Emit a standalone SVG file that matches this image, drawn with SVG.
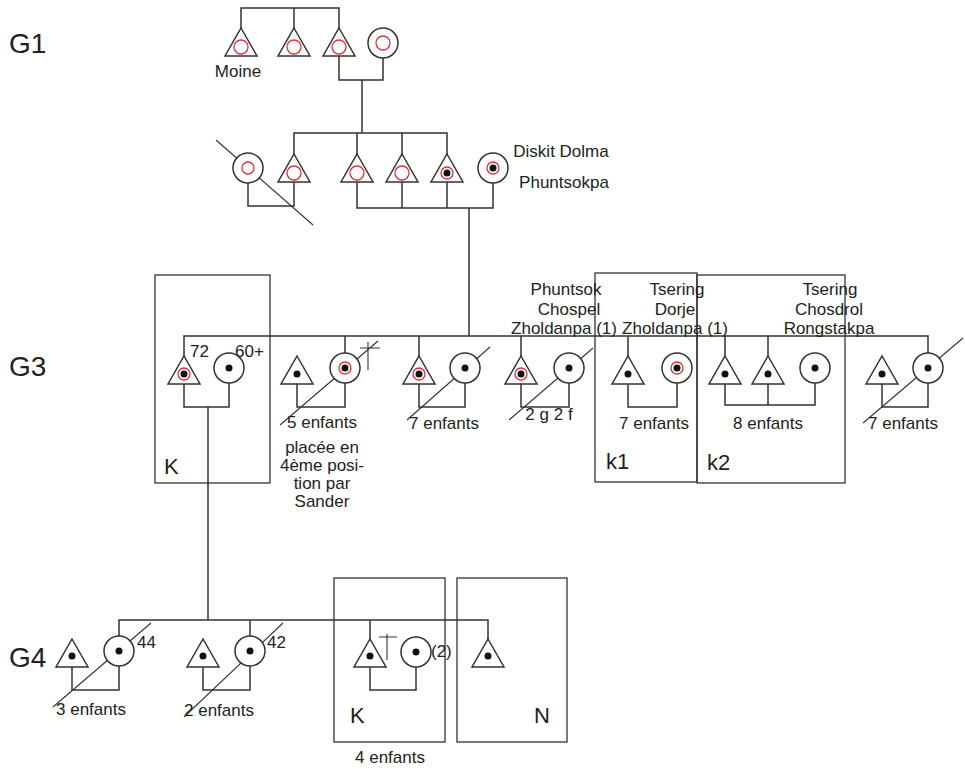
<svg xmlns="http://www.w3.org/2000/svg" xmlns:xlink="http://www.w3.org/1999/xlink" width="965" height="769" viewBox="0 0 965 769">
<style>
.ln{fill:none;stroke:#333;stroke-width:1.5}
.thin{fill:none;stroke:#333;stroke-width:1.1}
.box{fill:none;stroke:#333;stroke-width:1.3}
.sh{fill:#fff;stroke:#333;stroke-width:1.5}
.ring{fill:none;stroke:#e0303a;stroke-width:1.3}
.dot{fill:#111}
text{font-family:"Liberation Sans",Arial,sans-serif;fill:#222}
.t{font-size:17px}
.c{text-anchor:middle}
.g{font-size:28px}
.bl{font-size:22px}
</style>
<defs>
<polygon id="tri" class="sh" points="0,0 16,28 -16,28"/>
<circle id="cir" class="sh" r="15"/>
<circle id="rg" class="ring" r="7"/>
<circle id="rs" class="ring" r="6"/>
<circle id="dt" class="dot" r="3.5"/>
</defs>

<g id="labels">
<text class="g" x="9" y="53">G1</text>
<text class="g" x="9" y="376">G3</text>
<text class="g" x="9" y="667">G4</text>
</g>

<g id="boxes">
<rect id="boxK" class="box" x="155" y="275" width="115" height="208"/>
<text class="bl" x="164" y="474">K</text>
<rect id="boxk1" class="box" x="595" y="273" width="102" height="209"/>
<text class="bl" x="606" y="469">k1</text>
<rect id="boxk2" class="box" x="697" y="275" width="148" height="208"/>
<text class="bl" x="707" y="470">k2</text>
<rect id="boxK4" class="box" x="334" y="578" width="111" height="164"/>
<text class="bl" x="350" y="723">K</text>
<rect id="boxN" class="box" x="457" y="578" width="110" height="164"/>
<text class="bl" x="534" y="723">N</text>
</g>

<g id="connectors">
<!-- G1 -->
<path class="ln" d="M241,28V8H339V28M294,8V28"/>
<path class="ln" d="M339,56V80H383V58M362,80V133"/>
<!-- G2 -->
<path class="ln" d="M294,154V133H447V154M357,133V154M402,133V154"/>
<path class="ln" d="M248,183V206H294V182"/>
<path class="ln" d="M357,182V208H493V183M402,182V208M447,182V208M469,208V336"/>
<path class="thin" d="M216,140L313,225"/>
<!-- G3 -->
<path class="ln" d="M184,356V336H928V353"/>
<path class="ln" d="M184,384V407H229V383M208,407V620"/>
<path class="ln" d="M345,336V353M297,384V407H345V383"/>
<path class="ln" d="M419,336V356M419,384V407H465V383"/>
<path class="ln" d="M521,336V356M521,384V407H569V383"/>
<path class="ln" d="M628,336V356M628,384V407H677V383"/>
<path class="ln" d="M725,336V356M768,336V356M725,384V405H815V383M768,384V405"/>
<path class="ln" d="M882,384V407H928V383"/>
<path class="thin" d="M280,425L378,341M368,342V370M360,348H380"/>
<path class="thin" d="M407,420L490,347"/>
<path class="thin" d="M509,420L593,348"/>
<path class="thin" d="M863,423L963,338"/>
<!-- G4 -->
<path class="ln" d="M119,636V620H488V639M250,620V636M370,620V639"/>
<path class="ln" d="M72,667V690H119V666"/>
<path class="ln" d="M203,667V690H250V666"/>
<path class="ln" d="M370,667V690H416V667"/>
<path class="thin" d="M53,707L151,623"/>
<path class="thin" d="M184,717L283,623"/>
<path class="thin" d="M387,634V660M379,637H397"/>
</g>

<!-- G1 nodes -->
<g id="g1_moine"><use href="#tri" x="241" y="28"/><use href="#rg" x="241" y="47"/><text class="t c" x="238" y="77">Moine</text></g>
<g id="g1_b2"><use href="#tri" x="294" y="28"/><use href="#rg" x="294" y="47"/></g>
<g id="g1_b3"><use href="#tri" x="339" y="28"/><use href="#rg" x="339" y="47"/></g>
<g id="g1_wife"><use href="#cir" x="383" y="43"/><use href="#rg" x="383" y="43"/></g>

<!-- G2 nodes -->
<g id="g2_c1"><use href="#cir" x="248" y="168"/><use href="#rs" x="248" y="168"/></g>
<g id="g2_t2"><use href="#tri" x="294" y="154"/><use href="#rg" x="294" y="173"/></g>
<g id="g2_t3"><use href="#tri" x="357" y="154"/><use href="#rg" x="357" y="173"/></g>
<g id="g2_t4"><use href="#tri" x="402" y="154"/><use href="#rg" x="402" y="173"/></g>
<g id="g2_t5"><use href="#tri" x="447" y="154"/><use href="#rs" x="447" y="173"/><use href="#dt" x="447" y="173"/></g>
<g id="g2_diskit"><use href="#cir" x="493" y="168"/><use href="#rs" x="493" y="168"/><use href="#dt" x="493" y="168"/>
<text class="t c" x="561" y="157">Diskit Dolma</text><text class="t c" x="564" y="188">Phuntsokpa</text></g>

<!-- G3 nodes -->
<g id="g3_k_m"><use href="#tri" x="184" y="356"/><use href="#rs" x="184" y="374"/><use href="#dt" x="184" y="374"/><text class="t" x="190" y="357">72</text></g>
<g id="g3_k_f"><use href="#cir" x="229" y="368"/><use href="#dt" x="229" y="368"/><text class="t" x="235" y="357">60+</text></g>
<g id="g3_c2_m"><use href="#tri" x="297" y="356"/><use href="#dt" x="297" y="374"/></g>
<g id="g3_c2_f"><use href="#cir" x="345" y="368"/><use href="#rs" x="345" y="368"/><use href="#dt" x="345" y="368"/>
<text class="t c" x="322" y="428">5 enfants</text>
<text class="t c" x="322" y="453">placée en</text>
<text class="t c" x="322" y="471">4ème posi-</text>
<text class="t c" x="322" y="489">tion par</text>
<text class="t c" x="322" y="507">Sander</text></g>
<g id="g3_c3_m"><use href="#tri" x="419" y="356"/><use href="#rs" x="419" y="374"/><use href="#dt" x="419" y="374"/></g>
<g id="g3_c3_f"><use href="#cir" x="465" y="368"/><use href="#dt" x="465" y="368"/><text class="t c" x="444" y="429">7 enfants</text></g>
<g id="g3_c4_m"><use href="#tri" x="521" y="356"/><use href="#rs" x="521" y="374"/><use href="#dt" x="521" y="374"/></g>
<g id="g3_c4_f"><use href="#cir" x="569" y="368"/><use href="#dt" x="569" y="368"/><text class="t c" x="549" y="420">2 g 2 f</text>
<text class="t c" x="566" y="295">Phuntsok</text><text class="t c" x="569" y="315">Chospel</text><text class="t c" x="564" y="334">Zholdanpa (1)</text></g>
<g id="g3_k1_m"><use href="#tri" x="628" y="356"/><use href="#dt" x="628" y="374"/></g>
<g id="g3_k1_f"><use href="#cir" x="677" y="368"/><use href="#rs" x="677" y="368"/><use href="#dt" x="677" y="368"/>
<text class="t c" x="654" y="429">7 enfants</text>
<text class="t c" x="677" y="295">Tsering</text><text class="t c" x="675" y="315">Dorje</text><text class="t c" x="675" y="334">Zholdanpa (1)</text></g>
<g id="g3_k2_m1"><use href="#tri" x="725" y="356"/><use href="#dt" x="725" y="374"/></g>
<g id="g3_k2_m2"><use href="#tri" x="768" y="356"/><use href="#dt" x="768" y="374"/></g>
<g id="g3_k2_f"><use href="#cir" x="815" y="368"/><use href="#dt" x="815" y="368"/>
<text class="t c" x="768" y="429">8 enfants</text>
<text class="t c" x="830" y="295">Tsering</text><text class="t c" x="829" y="315">Chosdrol</text><text class="t c" x="829" y="334">Rongstakpa</text></g>
<g id="g3_c8_m"><use href="#tri" x="882" y="356"/><use href="#dt" x="882" y="374"/></g>
<g id="g3_c8_f"><use href="#cir" x="928" y="368"/><use href="#dt" x="928" y="368"/><text class="t c" x="903" y="429">7 enfants</text></g>

<!-- G4 nodes -->
<g id="g4_c1_m"><use href="#tri" x="72" y="639"/><use href="#dt" x="72" y="656"/></g>
<g id="g4_c1_f"><use href="#cir" x="119" y="651"/><use href="#dt" x="119" y="651"/><text class="t" x="137" y="648">44</text><text class="t c" x="91" y="715">3 enfants</text></g>
<g id="g4_c2_m"><use href="#tri" x="203" y="639"/><use href="#dt" x="203" y="656"/></g>
<g id="g4_c2_f"><use href="#cir" x="250" y="651"/><use href="#dt" x="250" y="651"/><text class="t" x="267" y="648">42</text><text class="t c" x="219" y="716">2 enfants</text></g>
<g id="g4_k_m"><use href="#tri" x="370" y="639"/><use href="#dt" x="370" y="656"/></g>
<g id="g4_k_f"><use href="#cir" x="416" y="652"/><use href="#dt" x="416" y="652"/><text class="t" x="431" y="657">(2)</text><text class="t c" x="390" y="763">4 enfants</text></g>
<g id="g4_n"><use href="#tri" x="488" y="639"/><use href="#dt" x="488" y="656"/></g>
</svg>
